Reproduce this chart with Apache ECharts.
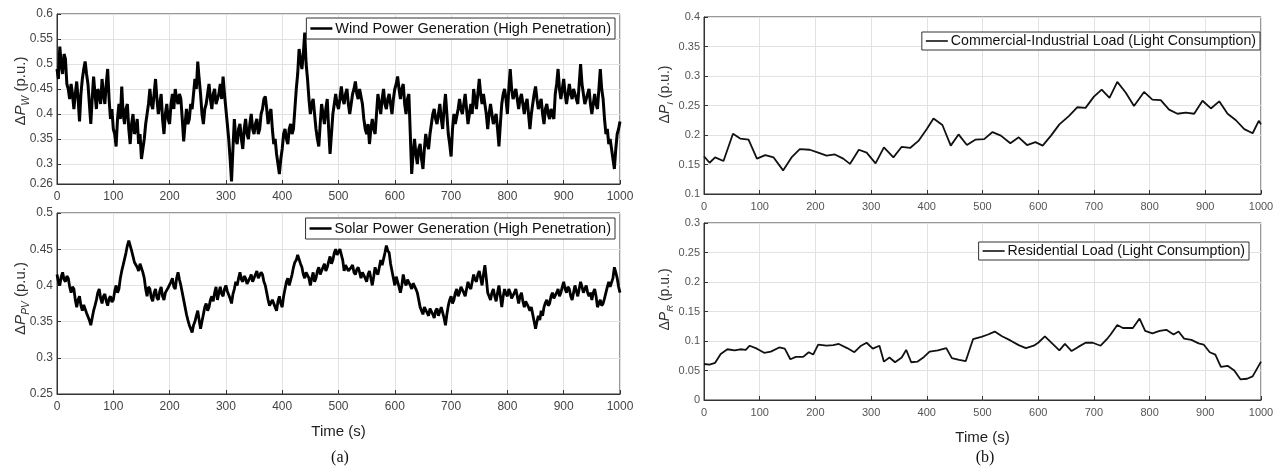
<!DOCTYPE html>
<html>
<head>
<meta charset="utf-8">
<script src="https://cdn.jsdelivr.net/npm/echarts@6/dist/echarts.min.js"></script>
<style>
  html, body { margin: 0; background: #fff; }
  #chart { width: 1287px; height: 470px; }
</style>
</head>
<body>
<div id="chart"></div>
<script>
// sampling step (s) of the two generation traces
const genStep = 2.5;

// wind power generation, t = 0..1000 s every 2.5 s (one row = 50 s)
const windPower = [
  0.49, 0.47, 0.535, 0.50, 0.48, 0.52, 0.51, 0.46, 0.45, 0.43, 0.46, 0.44, 0.41, 0.44, 0.465, 0.43, 0.385, 0.44, 0.47, 0.49,
  0.505, 0.48, 0.46, 0.42, 0.38, 0.43, 0.475, 0.44, 0.41, 0.45, 0.44, 0.42, 0.47, 0.44, 0.42, 0.46, 0.49, 0.43, 0.39, 0.41,
  0.37, 0.36, 0.335, 0.39, 0.42, 0.39, 0.455, 0.40, 0.38, 0.41, 0.42, 0.37, 0.34, 0.38, 0.40, 0.36, 0.37, 0.39, 0.34, 0.36,
  0.31, 0.33, 0.35, 0.38, 0.40, 0.42, 0.45, 0.42, 0.41, 0.44, 0.47, 0.43, 0.40, 0.42, 0.44, 0.39, 0.36, 0.40, 0.42, 0.39,
  0.38, 0.42, 0.44, 0.41, 0.45, 0.43, 0.42, 0.44, 0.43, 0.39, 0.345, 0.38, 0.41, 0.38, 0.39, 0.42, 0.41, 0.44, 0.47, 0.45,
  0.505, 0.47, 0.44, 0.40, 0.38, 0.41, 0.42, 0.44, 0.46, 0.43, 0.41, 0.44, 0.45, 0.42, 0.42, 0.44, 0.46, 0.43, 0.475, 0.44,
  0.41, 0.38, 0.35, 0.31, 0.265, 0.33, 0.39, 0.35, 0.34, 0.37, 0.38, 0.35, 0.33, 0.37, 0.39, 0.36, 0.35, 0.38, 0.40, 0.37,
  0.36, 0.38, 0.39, 0.36, 0.37, 0.40, 0.41, 0.43, 0.435, 0.41, 0.38, 0.40, 0.41, 0.37, 0.34, 0.35, 0.32, 0.30, 0.28, 0.31,
  0.33, 0.36, 0.37, 0.35, 0.34, 0.37, 0.38, 0.36, 0.37, 0.41, 0.45, 0.48, 0.53, 0.51, 0.49, 0.52, 0.563, 0.50, 0.47, 0.43,
  0.40, 0.42, 0.43, 0.40, 0.37, 0.35, 0.335, 0.38, 0.42, 0.40, 0.38, 0.41, 0.43, 0.37, 0.32, 0.36, 0.40, 0.42, 0.44, 0.42,
  0.41, 0.43, 0.455, 0.43, 0.42, 0.44, 0.45, 0.42, 0.40, 0.42, 0.44, 0.45, 0.465, 0.44, 0.43, 0.45, 0.45, 0.42, 0.39, 0.37,
  0.36, 0.38, 0.34, 0.37, 0.39, 0.37, 0.36, 0.40, 0.44, 0.42, 0.40, 0.43, 0.45, 0.42, 0.41, 0.43, 0.44, 0.42, 0.40, 0.43,
  0.45, 0.46, 0.475, 0.45, 0.43, 0.45, 0.46, 0.42, 0.40, 0.43, 0.44, 0.36, 0.28, 0.32, 0.35, 0.32, 0.30, 0.33, 0.34, 0.31,
  0.29, 0.33, 0.36, 0.34, 0.33, 0.36, 0.38, 0.40, 0.41, 0.39, 0.38, 0.40, 0.42, 0.39, 0.37, 0.41, 0.44, 0.40, 0.36, 0.34,
  0.315, 0.37, 0.40, 0.38, 0.38, 0.41, 0.43, 0.41, 0.40, 0.42, 0.44, 0.41, 0.38, 0.40, 0.42, 0.40, 0.45, 0.43, 0.41, 0.44,
  0.47, 0.44, 0.42, 0.44, 0.44, 0.40, 0.37, 0.40, 0.42, 0.40, 0.38, 0.39, 0.40, 0.37, 0.335, 0.38, 0.42, 0.44, 0.45, 0.43,
  0.40, 0.45, 0.49, 0.45, 0.43, 0.44, 0.45, 0.43, 0.41, 0.43, 0.44, 0.42, 0.40, 0.42, 0.43, 0.40, 0.37, 0.40, 0.42, 0.44,
  0.455, 0.43, 0.41, 0.42, 0.43, 0.40, 0.38, 0.41, 0.42, 0.40, 0.39, 0.41, 0.41, 0.39, 0.44, 0.46, 0.49, 0.45, 0.43, 0.45,
  0.47, 0.44, 0.42, 0.44, 0.46, 0.44, 0.43, 0.45, 0.45, 0.43, 0.42, 0.46, 0.50, 0.46, 0.44, 0.42, 0.42, 0.44, 0.45, 0.42,
  0.40, 0.42, 0.44, 0.42, 0.41, 0.45, 0.49, 0.45, 0.43, 0.39, 0.36, 0.37, 0.34, 0.35, 0.33, 0.31, 0.29, 0.33, 0.36, 0.37,
  0.385
];

// solar power generation, t = 0..1000 s every 2.5 s (one row = 50 s)
const solarPower = [
  0.415, 0.405, 0.40, 0.412, 0.418, 0.408, 0.405, 0.413, 0.41, 0.398, 0.39, 0.398, 0.395, 0.38, 0.37, 0.38, 0.385, 0.372, 0.365, 0.373,
  0.375, 0.362, 0.36, 0.352, 0.345, 0.355, 0.365, 0.372, 0.38, 0.39, 0.395, 0.382, 0.375, 0.385, 0.388, 0.378, 0.372, 0.382, 0.385, 0.377,
  0.38, 0.392, 0.40, 0.39, 0.395, 0.41, 0.42, 0.428, 0.43, 0.445, 0.455, 0.462, 0.46, 0.448, 0.44, 0.432, 0.43, 0.425, 0.42, 0.43,
  0.428, 0.418, 0.41, 0.395, 0.385, 0.398, 0.395, 0.383, 0.378, 0.39, 0.395, 0.383, 0.38, 0.392, 0.398, 0.385, 0.38, 0.39, 0.39, 0.397,
  0.398, 0.405, 0.41, 0.398, 0.395, 0.41, 0.418, 0.408, 0.40, 0.39, 0.38, 0.37, 0.36, 0.352, 0.345, 0.34, 0.335, 0.345, 0.35, 0.358,
  0.365, 0.352, 0.34, 0.35, 0.36, 0.37, 0.375, 0.365, 0.37, 0.38, 0.385, 0.378, 0.39, 0.398, 0.38, 0.39, 0.398, 0.388, 0.385, 0.395,
  0.40, 0.392, 0.39, 0.382, 0.375, 0.388, 0.395, 0.405, 0.40, 0.41, 0.418, 0.408, 0.405, 0.413, 0.41, 0.402, 0.40, 0.41, 0.415, 0.405,
  0.405, 0.415, 0.42, 0.41, 0.41, 0.418, 0.415, 0.405, 0.40, 0.39, 0.38, 0.372, 0.37, 0.38, 0.38, 0.37, 0.365, 0.378, 0.385, 0.375,
  0.37, 0.385, 0.395, 0.405, 0.41, 0.40, 0.40, 0.415, 0.425, 0.432, 0.435, 0.442, 0.44, 0.43, 0.425, 0.415, 0.41, 0.418, 0.42, 0.41,
  0.40, 0.41, 0.418, 0.405, 0.41, 0.42, 0.425, 0.415, 0.415, 0.425, 0.43, 0.42, 0.425, 0.433, 0.44, 0.43, 0.435, 0.445, 0.45, 0.442,
  0.44, 0.45, 0.448, 0.435, 0.42, 0.428, 0.43, 0.42, 0.418, 0.425, 0.428, 0.418, 0.415, 0.422, 0.425, 0.418, 0.41, 0.418, 0.42, 0.41,
  0.405, 0.415, 0.42, 0.41, 0.40, 0.412, 0.425, 0.418, 0.415, 0.425, 0.435, 0.428, 0.43, 0.445, 0.455, 0.448, 0.445, 0.43, 0.42, 0.41,
  0.40, 0.412, 0.41, 0.398, 0.39, 0.40, 0.415, 0.405, 0.40, 0.408, 0.41, 0.40, 0.395, 0.403, 0.405, 0.395, 0.39, 0.38, 0.37, 0.365,
  0.36, 0.37, 0.372, 0.362, 0.358, 0.368, 0.37, 0.36, 0.355, 0.365, 0.368, 0.358, 0.36, 0.37, 0.37, 0.355, 0.345, 0.36, 0.372, 0.38,
  0.385, 0.375, 0.38, 0.39, 0.395, 0.385, 0.39, 0.398, 0.40, 0.39, 0.385, 0.395, 0.405, 0.398, 0.395, 0.405, 0.415, 0.408, 0.405, 0.415,
  0.42, 0.41, 0.40, 0.415, 0.428, 0.41, 0.39, 0.385, 0.38, 0.39, 0.395, 0.385, 0.378, 0.39, 0.40, 0.385, 0.37, 0.385, 0.395, 0.388,
  0.385, 0.395, 0.39, 0.382, 0.38, 0.39, 0.395, 0.385, 0.375, 0.385, 0.39, 0.378, 0.37, 0.378, 0.38, 0.37, 0.365, 0.37, 0.36, 0.35,
  0.34, 0.35, 0.358, 0.352, 0.365, 0.358, 0.37, 0.376, 0.38, 0.372, 0.375, 0.385, 0.39, 0.382, 0.38, 0.39, 0.395, 0.385, 0.39, 0.398,
  0.405, 0.395, 0.39, 0.398, 0.395, 0.385, 0.38, 0.39, 0.40, 0.392, 0.385, 0.395, 0.405, 0.398, 0.39, 0.395, 0.40, 0.39, 0.385, 0.39,
  0.38, 0.39, 0.395, 0.385, 0.37, 0.375, 0.38, 0.372, 0.375, 0.382, 0.39, 0.398, 0.405, 0.398, 0.398, 0.41, 0.425, 0.418, 0.41, 0.398,
  0.39
];

// commercial-industrial load
const ciTime = [0, 10, 20, 35, 52, 65, 80, 95, 110, 125, 142, 158, 172, 190, 205, 220, 235, 250, 262, 278,
  292, 308, 323, 340, 355, 370, 385, 400, 412, 428, 443, 457, 472, 487, 503, 518, 533, 550, 565, 580,
  595, 608, 623, 638, 655, 670, 685, 700, 714, 728, 742, 757, 772, 790, 805, 820, 835, 850, 865, 880,
  895, 910, 925, 940, 955, 970, 985, 996, 1000];
const ciLoad = [0.164, 0.153, 0.162, 0.156, 0.202, 0.194, 0.192, 0.160, 0.166, 0.162, 0.140, 0.163, 0.176, 0.175, 0.170, 0.165, 0.167, 0.160, 0.151, 0.175,
  0.170, 0.152, 0.179, 0.162, 0.180, 0.178, 0.190, 0.210, 0.228, 0.217, 0.182, 0.201, 0.183, 0.192, 0.193, 0.205, 0.199, 0.186, 0.196, 0.183,
  0.188, 0.182, 0.199, 0.218, 0.232, 0.247, 0.246, 0.265, 0.277, 0.263, 0.290, 0.272, 0.249, 0.273, 0.260, 0.259, 0.243, 0.236, 0.238, 0.236,
  0.258, 0.245, 0.257, 0.236, 0.225, 0.210, 0.203, 0.224, 0.218];

// residential load
const resTime = [0, 10, 20, 30, 42, 55, 65, 75, 82, 95, 108, 120, 135, 145, 155, 165, 178, 188, 196, 205,
  220, 232, 242, 257, 270, 282, 292, 303, 315, 323, 333, 343, 355, 363, 372, 383, 395, 405, 420, 435,
  445, 458, 470, 483, 498, 510, 522, 535, 550, 565, 578, 592, 600, 612, 625, 638, 648, 660, 672, 685,
  698, 712, 725, 730, 742, 752, 770, 782, 792, 805, 818, 830, 843, 852, 862, 875, 888, 897, 908, 918,
  928, 940, 952, 963, 975, 985, 1000];
const resLoad = [0.061, 0.060, 0.063, 0.078, 0.086, 0.084, 0.086, 0.085, 0.092, 0.087, 0.080, 0.082, 0.089, 0.087, 0.069, 0.073, 0.073, 0.081, 0.077, 0.094,
  0.092, 0.093, 0.095, 0.088, 0.081, 0.092, 0.097, 0.087, 0.092, 0.065, 0.072, 0.064, 0.072, 0.085, 0.064, 0.065, 0.073, 0.082, 0.084, 0.088,
  0.071, 0.068, 0.066, 0.103, 0.107, 0.111, 0.116, 0.108, 0.101, 0.093, 0.088, 0.092, 0.097, 0.108, 0.096, 0.084, 0.095, 0.083, 0.090, 0.097,
  0.097, 0.092, 0.105, 0.111, 0.127, 0.122, 0.122, 0.138, 0.117, 0.113, 0.117, 0.119, 0.111, 0.116, 0.104, 0.102, 0.096, 0.094, 0.081, 0.077,
  0.056, 0.058, 0.050, 0.035, 0.036, 0.040, 0.065];

const windTicks = [0.26, 0.3, 0.35, 0.4, 0.45, 0.5, 0.55, 0.6];

const names = [
  'Wind Power Generation (High Penetration)',
  'Solar Power Generation (High Penetration)',
  'Commercial-Industrial Load (Light Consumption)',
  'Residential Load (Light Consumption)'
];

function stepped(step, values) {
  return values.map((v, i) => [i * step, v]);
}
function zip(t, v) {
  return t.map((x, i) => [x, v[i]]);
}

const boxColor = '#333';
const gridColor = '#e2e2e2';

function xAxis(gridIndex, labelSize, labelColor, name) {
  return {
    type: 'value', gridIndex, min: 0, max: 1000, interval: 100,
    name: name || '', nameLocation: 'middle', nameGap: 30, nameMoveOverlap: false,
    nameTextStyle: { fontSize: 15, color: '#222', fontFamily: 'Liberation Sans' },
    axisLine: { show: true, lineStyle: { color: boxColor } },
    axisTick: { inside: true, length: 4, lineStyle: { color: boxColor } },
    splitLine: { show: true, lineStyle: { color: gridColor } },
    axisLabel: { fontSize: labelSize, color: labelColor, margin: 7, fontFamily: 'Liberation Sans',
      formatter: v => String(v) }
  };
}

function yName(sub) {
  return '{d|Δ}{p|P}{s|' + sub + '}{n| (p.u.)}';
}
function yRich(size) {
  return {
    d: { fontSize: size, lineHeight: 20, verticalAlign: 'middle', color: '#333' },
    p: { fontSize: size, lineHeight: 20, verticalAlign: 'middle', fontStyle: 'italic', color: '#333' },
    s: { fontSize: size * 0.68, lineHeight: 20, verticalAlign: 'bottom', fontStyle: 'italic', color: '#333' },
    n: { fontSize: size, lineHeight: 20, verticalAlign: 'middle', color: '#333' }
  };
}

function yAxis(gridIndex, min, max, sub, gap, lift, nameSize, labelSize, labelColor, ticks) {
  const ax = {
    type: 'value', gridIndex, min, max,
    name: yName(sub), nameLocation: 'middle', nameGap: gap, nameMoveOverlap: false,
    nameTextStyle: { fontFamily: 'Liberation Sans', rich: yRich(nameSize), padding: [0, 0, 0, lift] },
    axisLine: { show: true, lineStyle: { color: boxColor } },
    axisTick: { inside: true, length: 4, lineStyle: { color: boxColor } },
    splitLine: { show: true, lineStyle: { color: gridColor } },
    axisLabel: { fontSize: labelSize, color: labelColor, margin: 4, fontFamily: 'Liberation Sans' }
  };
  if (ticks) {
    ax.axisTick.customValues = ticks;
    ax.axisLabel.customValues = ticks;
  } else {
    ax.interval = 0.05;
  }
  return ax;
}

function legend(name, right, top, size, lineW, pad) {
  return {
    data: [name], right, top,
    orient: 'horizontal',
    icon: 'rect', itemWidth: 22, itemHeight: lineW,
    backgroundColor: '#fff', borderColor: boxColor, borderWidth: 1,
    padding: pad,
    textStyle: { fontSize: size, color: '#111', fontFamily: 'Liberation Sans', padding: [0, 0, 0, -2] }
  };
}

const chart = echarts.init(document.getElementById('chart'));

chart.setOption({
  animation: false,
  backgroundColor: '#fff',
  grid: [
    { left: 57, top: 14, width: 563, height: 170, show: true, borderColor: boxColor, borderWidth: 1 },
    { left: 57, top: 213, width: 563, height: 181, show: true, borderColor: boxColor, borderWidth: 1 },
    { left: 704, top: 17, width: 557, height: 177, show: true, borderColor: boxColor, borderWidth: 1 },
    { left: 704, top: 223, width: 557, height: 177, show: true, borderColor: boxColor, borderWidth: 1 }
  ],
  xAxis: [
    xAxis(0, 12, '#444'),
    xAxis(1, 12, '#444', 'Time (s)'),
    xAxis(2, 11, '#555'),
    xAxis(3, 11, '#555', 'Time (s)')
  ],
  yAxis: [
    yAxis(0, 0.26, 0.6, 'W', 26, 16, 15, 12, '#444', windTicks),
    yAxis(1, 0.25, 0.5, 'PV', 26, 10, 15, 12, '#444'),
    yAxis(2, 0.1, 0.4, 'I', 29, 22, 14, 11, '#555'),
    yAxis(3, 0, 0.3, 'R', 29, 24, 14, 11, '#555')
  ],
  legend: [
    legend(names[0], 672, 18, 14.5, 2.5, [3, 4, 3, 4]),
    legend(names[1], 672, 218, 14.5, 2.5, [3, 4, 3, 4]),
    legend(names[2], 27, 32, 14.2, 1.6, [2, 4, 2, 4]),
    legend(names[3], 38, 242, 14.2, 1.6, [2, 4, 2, 4])
  ],
  graphic: [
    { type: 'text', x: 340, y: 458, style: { text: '(a)', font: '16px "Liberation Serif"', fill: '#111', align: 'center', verticalAlign: 'middle' } },
    { type: 'text', x: 985, y: 458, style: { text: '(b)', font: '16px "Liberation Serif"', fill: '#111', align: 'center', verticalAlign: 'middle' } }
  ],
  series: [
    { name: names[0], type: 'line', xAxisIndex: 0, yAxisIndex: 0, data: stepped(genStep, windPower),
      symbol: 'none', lineStyle: { color: '#000', width: 3 }, itemStyle: { color: '#000' } },
    { name: names[1], type: 'line', xAxisIndex: 1, yAxisIndex: 1, data: stepped(genStep, solarPower),
      symbol: 'none', lineStyle: { color: '#000', width: 2.8 }, itemStyle: { color: '#000' } },
    { name: names[2], type: 'line', xAxisIndex: 2, yAxisIndex: 2, data: zip(ciTime, ciLoad),
      symbol: 'none', lineStyle: { color: '#111', width: 1.8 }, itemStyle: { color: '#111' } },
    { name: names[3], type: 'line', xAxisIndex: 3, yAxisIndex: 3, data: zip(resTime, resLoad),
      symbol: 'none', lineStyle: { color: '#111', width: 1.8 }, itemStyle: { color: '#111' } }
  ]
});
</script>
</body>
</html>
